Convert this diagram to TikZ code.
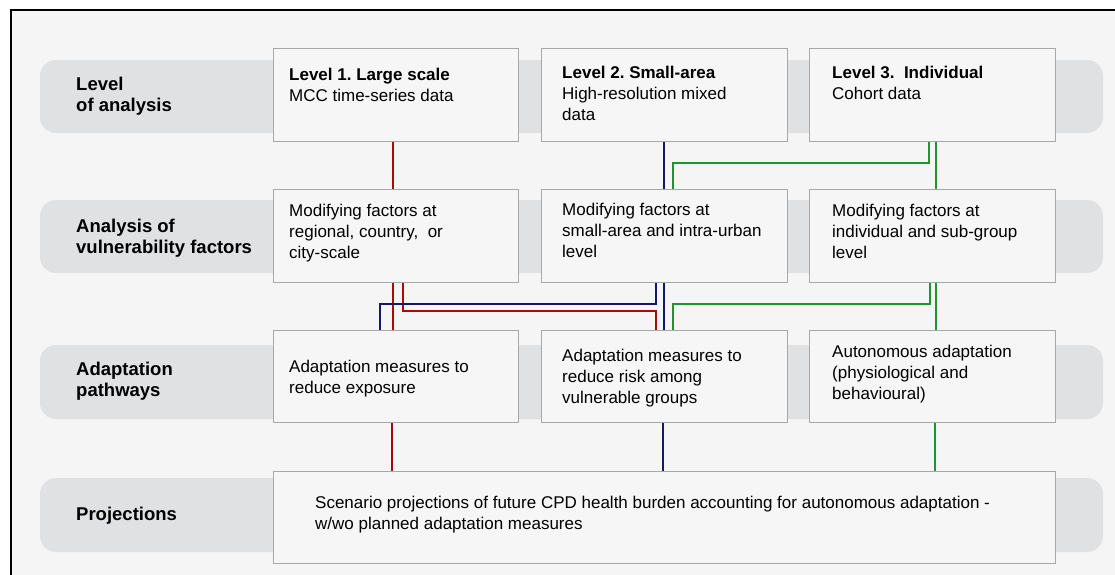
\documentclass[tikz,border=0pt]{standalone}
\usepackage{fontspec}
\setmainfont{Liberation Sans}
\usetikzlibrary{calc}
\frenchspacing
\definecolor{bgc}{RGB}{245,245,245}
\definecolor{bandc}{RGB}{224,225,227}
\definecolor{boxc}{RGB}{246,246,246}
\definecolor{boxline}{RGB}{168,168,168}
\definecolor{redc}{RGB}{170,10,15}
\definecolor{navyc}{RGB}{22,24,100}
\definecolor{greenc}{RGB}{30,150,45}
\tikzset{
  band/.style={fill=bandc, rounded corners=16pt},
  box/.style={draw=boxline, fill=boxc, line width=1pt, anchor=north west, inner sep=0pt},
  txt/.style={inner sep=0pt, anchor=base west, font=\fontsize{17}{21}\selectfont},
  lbl/.style={inner sep=0pt, anchor=base west, font=\bfseries\fontsize{18.5}{21.5}\selectfont},
  conn/.style={line width=2.2pt},
  redl/.style={conn, draw=redc},
  navyl/.style={conn, draw=navyc},
  greenl/.style={conn, draw=greenc},
}
\newcommand{\ml}[1]{\begin{tabular}[t]{@{}l@{}}#1\end{tabular}}
\begin{document}
\begin{tikzpicture}[x=1pt,y=-1pt]
\useasboundingbox (0,0) rectangle (1115,574);
\begin{scope}
\clip (0,0) rectangle (1115,574);
\fill[white] (0,0) rectangle (1115,574);
\draw[line width=2pt, fill=bgc] (11,10) rectangle (1130,590);
\end{scope}
% bands
\fill[band] (40,60) rectangle (1103,133);
\fill[band] (40,200) rectangle (1103,273);
\fill[band] (40,345) rectangle (1103,419);
\fill[band] (40,478) rectangle (1103,552);
% row labels
\node[lbl] (l1) at (76,90) {\ml{Level\\of analysis}};
\node[lbl] (l2) at (76,232) {\ml{Analysis of\\vulnerability factors}};
\node[lbl] (l3) at (76,375) {\ml{Adaptation\\pathways}};
\node[lbl] (l4) at (76,520.5) {Projections};
% boxes
\node[box, minimum width=245pt, minimum height=93pt] (b11) at (273,48) {};
\node[box, minimum width=246pt, minimum height=93pt] (b12) at (541,48) {};
\node[box, minimum width=246pt, minimum height=93pt] (b13) at (809,48) {};
\node[box, minimum width=245pt, minimum height=93pt] (b21) at (273,189) {};
\node[box, minimum width=246pt, minimum height=93pt] (b22) at (541,189) {};
\node[box, minimum width=246pt, minimum height=93pt] (b23) at (809,189) {};
\node[box, minimum width=245pt, minimum height=92pt] (b31) at (273,330) {};
\node[box, minimum width=246pt, minimum height=92pt] (b32) at (541,330) {};
\node[box, minimum width=246pt, minimum height=92pt] (b33) at (809,330) {};
\node[box, minimum width=782pt, minimum height=92pt] (b4) at (273,471) {};
% texts
\node[txt] (t11) at (289,80) {\ml{\textbf{Level 1. Large scale}\\MCC time-series data}};
\node[txt] (t12) at (562,78) {\ml{\textbf{Level 2. Small-area}\\High-resolution mixed\\data}};
\node[txt] (t13) at (832,78) {\ml{\textbf{Level 3.\ \ Individual}\\Cohort data}};
\node[txt] (t21) at (289,216) {\ml{Modifying factors at\\regional, country,\ \ or\\city-scale}};
\node[txt] (t22) at (562,215) {\ml{Modifying factors at\\small-area and intra-urban\\level}};
\node[txt] (t23) at (832,216) {\ml{Modifying factors at\\individual and sub-group\\level}};
\node[txt] (t31) at (289,372) {\ml{Adaptation measures to\\reduce exposure}};
\node[txt] (t32) at (562,361) {\ml{Adaptation measures to\\reduce risk among\\vulnerable groups}};
\node[txt] (t33) at (832,357) {\ml{Autonomous adaptation\\(physiological and\\behavioural)}};
\node[txt] (t4) at (315,508) {\ml{Scenario projections of future CPD health burden accounting for autonomous adaptation -\\w/wo planned adaptation measures}};
% connectors row1 -> row2
\draw[redl] ($(b11.south west)+(120,0)$) -- ($(b21.north west)+(120,0)$);
\draw[navyl] ($(b12.south west)+(123,0)$) -- ($(b22.north west)+(123,0)$);
\draw[greenl] ($(b13.south west)+(120,0)$) -- ++(0,21) -| ($(b22.north west)+(132,0)$);
\draw[greenl] ($(b13.south west)+(127,0)$) -- ($(b23.north west)+(127,0)$);
% connectors row2 -> row3
\draw[redl] ($(b21.south west)+(120,0)$) -- ($(b31.north west)+(120,0)$);
\draw[redl] ($(b21.south west)+(130,0)$) -- ++(0,28) -| ($(b32.north west)+(115,0)$);
\draw[navyl] ($(b22.south west)+(115,0)$) -- ++(0,21) -| ($(b31.north west)+(107,0)$);
\draw[navyl] ($(b22.south west)+(123,0)$) -- ($(b32.north west)+(123,0)$);
\draw[greenl] ($(b23.south west)+(121,0)$) -- ++(0,21) -| ($(b32.north west)+(132,0)$);
\draw[greenl] ($(b23.south west)+(127,0)$) -- ($(b33.north west)+(127,0)$);
% connectors row3 -> row4
\draw[redl] ($(b31.south west)+(119,0)$) -- ($(b4.north west)+(119,0)$);
\draw[navyl] ($(b32.south west)+(122,0)$) -- ($(b4.north west)+(390,0)$);
\draw[greenl] ($(b33.south west)+(126,0)$) -- ($(b4.north west)+(662,0)$);
\end{tikzpicture}
\end{document}
